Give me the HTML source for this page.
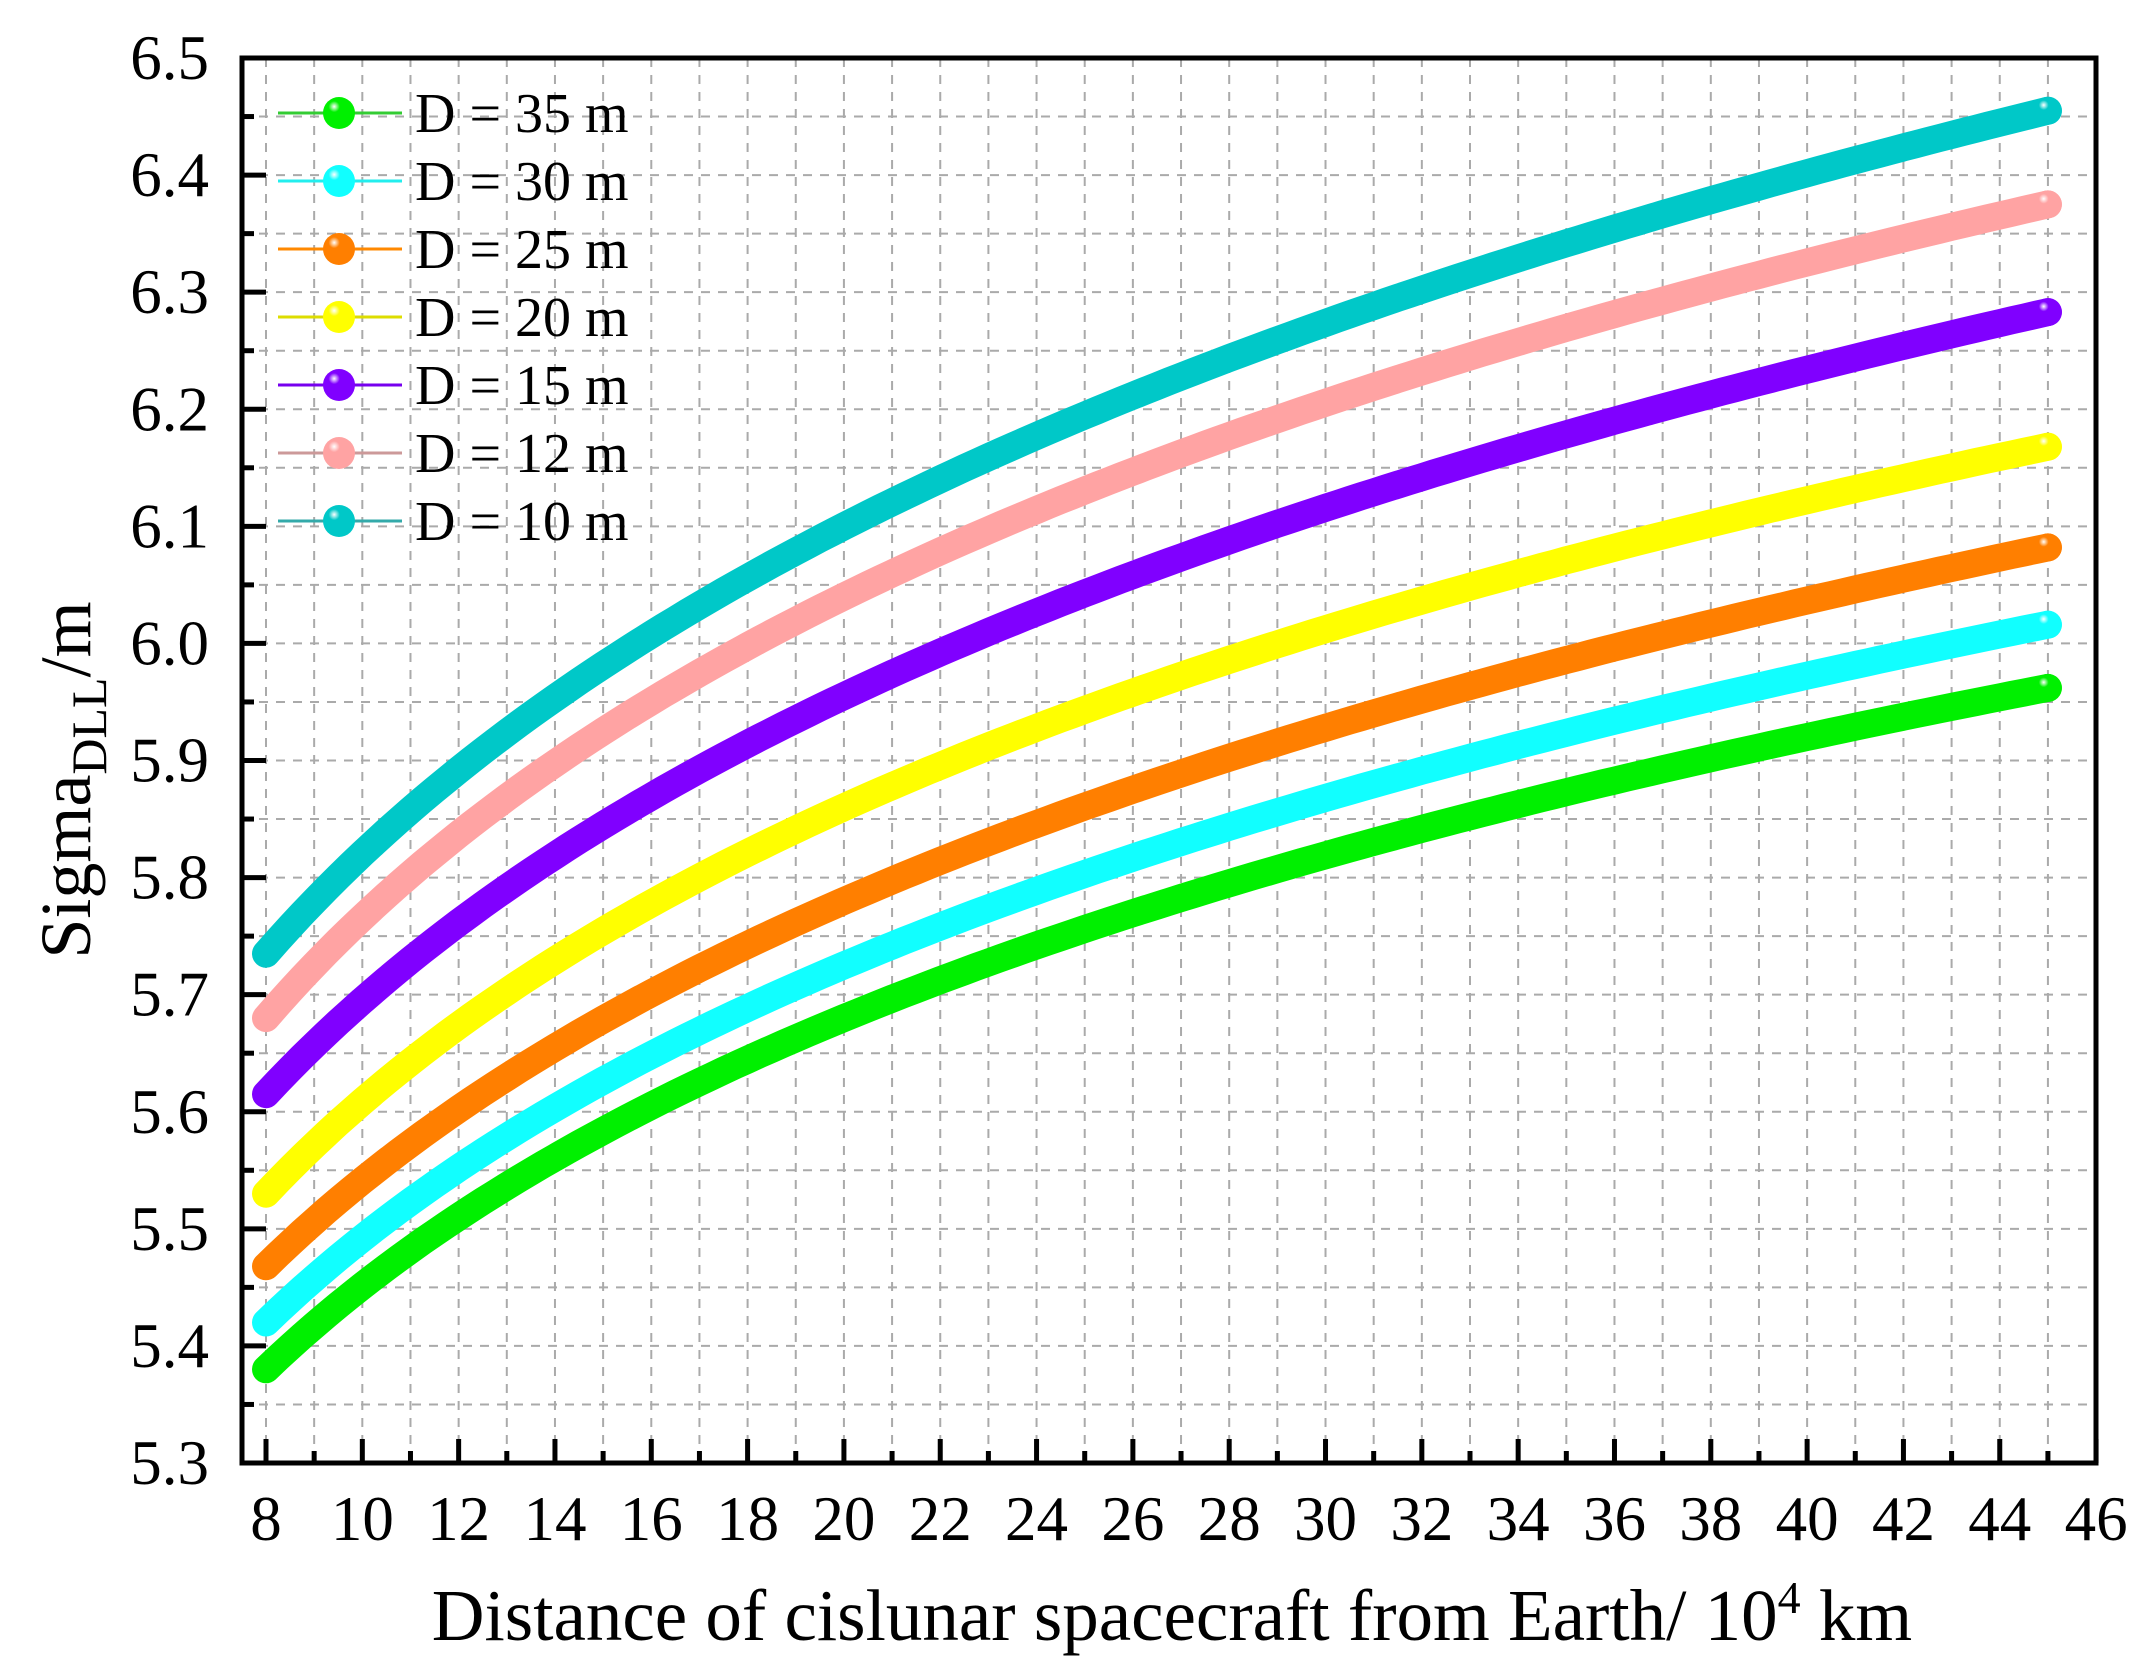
<!DOCTYPE html>
<html><head><meta charset="utf-8"><style>html,body{margin:0;padding:0;background:#fff}svg{display:block}</style></head>
<body>
<svg id="s" width="2156" height="1672" xmlns="http://www.w3.org/2000/svg" font-family="Liberation Serif, serif">
<defs id="d"></defs>
<g id="grid"></g><g id="curves"></g><g id="axes"></g><g id="leg"></g>
<text x="1172" y="1640" font-size="73" text-anchor="middle">Distance of cislunar spacecraft from Earth/ 10<tspan dy="-27" font-size="46">4</tspan><tspan dy="27"> km</tspan></text>
<text transform="translate(90,780) rotate(-90)" font-size="72" text-anchor="middle">Sigma<tspan dy="16" font-size="50">DLL</tspan><tspan dy="-16">/m</tspan></text>
</svg>
<script>
const NS="http://www.w3.org/2000/svg";
function el(p,t,a,txt){const e=document.createElementNS(NS,t);for(const k in a)e.setAttribute(k,a[k]);if(txt!==undefined)e.textContent=txt;document.getElementById(p).appendChild(e);return e;}
const L=242,R=2096,T=58,B=1463;
const X=v=>266+(v-8)*48.16;
const Y=v=>B-(v-5.3)*(B-T)/1.2;
for(let v=8;v<=45;v++)el('grid','line',{x1:X(v),x2:X(v),y1:T,y2:B,stroke:'#aaa','stroke-width':2,'stroke-dasharray':'9,8'});
for(let i=1;i<24;i++){const y=Y(5.3+i*0.05);el('grid','line',{x1:L,x2:R,y1:y,y2:y,stroke:'#aaa','stroke-width':2,'stroke-dasharray':'9,8'});}
const S=[
['#00f000','#3c3','D = 35 m',[5.38,5.68,5.962]],
['#1ff','#2ee','D = 30 m',[5.42,5.725,6.016]],
['#ff7f00','#f80','D = 25 m',[5.468,5.78,6.082]],
['#ff0','#dd0','D = 20 m',[5.53,5.86,6.168]],
['#8000ff','#70e','D = 15 m',[5.615,5.955,6.283]],
['#ffa3a3','#c99','D = 12 m',[5.68,6.04,6.375]],
['#00c8c8','#3aa','D = 10 m',[5.735,6.10,6.455]]];
const l8=Math.log(8),l20=Math.log(20),l45=Math.log(45);
function f(p,x){const u=Math.log(x);
 return p[0]*((u-l20)*(u-l45))/((l8-l20)*(l8-l45))+p[1]*((u-l8)*(u-l45))/((l20-l8)*(l20-l45))+p[2]*((u-l8)*(u-l20))/((l45-l8)*(l45-l20));}
S.forEach((s,i)=>{
 el('d','radialGradient',{id:'g'+i,cx:'0.35',cy:'0.3',r:'0.7'});
 el('g'+i,'stop',{offset:'0','stop-color':'#fff'});
 el('g'+i,'stop',{offset:'0.25','stop-color':s[0]});
 el('g'+i,'stop',{offset:'1','stop-color':s[0]});
});
S.forEach((s,i)=>{
 let pts=[];for(let x=8;x<=45.001;x+=0.25)pts.push(X(x).toFixed(1)+','+Y(f(s[3],x)).toFixed(1));
 el('curves','polyline',{points:pts.join(' '),fill:'none',stroke:s[0],'stroke-width':28,'stroke-linecap':'round','stroke-linejoin':'round'});
 el('curves','circle',{cx:X(45),cy:Y(f(s[3],45)),r:14,fill:'url(#g'+i+')'});
 const y=113+i*68;
 el('leg','line',{x1:278,x2:402,y1:y,y2:y,stroke:s[1],'stroke-width':3});
 el('leg','circle',{cx:339,cy:y,r:16,fill:'url(#g'+i+')'});
 el('leg','text',{x:415,y:y+19,'font-size':56},s[2]);
});
el('axes','rect',{x:L,y:T,width:R-L,height:B-T,fill:'none',stroke:'#000','stroke-width':5});
for(let v=8;v<=46;v++){const maj=v%2==0;el('axes','line',{x1:X(v),x2:X(v),y1:B,y2:B-(maj?24:12),stroke:'#000','stroke-width':5});
 if(maj)el('axes','text',{x:X(v),y:1540,'font-size':63,'text-anchor':'middle'},v);}
for(let i=0;i<=24;i++){const maj=i%2==0;const y=Y(5.3+i*0.05);el('axes','line',{x1:L,x2:L+(maj?24:12),y1:y,y2:y,stroke:'#000','stroke-width':5});
 if(maj)el('axes','text',{x:209,y:y+21,'font-size':63,'text-anchor':'end'},(5.3+i*0.05).toFixed(1));}
</script>
</body></html>
